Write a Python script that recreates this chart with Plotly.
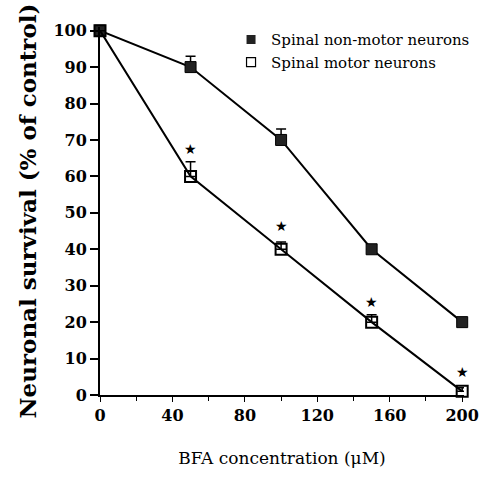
import plotly.graph_objects as go

conc = [0, 50, 100, 150, 200]
nonmotor = [100, 90, 70, 40, 20]
nonmotor_err = [0, 3, 3, 0, 0]
motor = [100, 60, 40, 20, 1]
motor_err = [0, 4, 2, 2, 1]
star_x = [50, 100, 150, 200]
star_y = [67, 46, 25, 6]
x_ticks = [0, 40, 80, 120, 160, 200]
y_ticks = [0, 10, 20, 30, 40, 50, 60, 70, 80, 90, 100]
series_names = ["Spinal non-motor neurons", "Spinal motor neurons"]

SERIF = "DejaVu Serif"
filled_marker = dict(symbol="square", size=11, color="#222222", line=dict(color="black", width=1))
open_marker = dict(symbol="square-open", size=11, color="black", line=dict(color="black", width=2))

fig = go.Figure()
fig.add_trace(go.Scatter(
    x=conc, y=nonmotor, mode="lines+markers", name=series_names[0], showlegend=False,
    line=dict(color="black", width=2), marker=filled_marker,
    error_y=dict(type="data", array=nonmotor_err, arrayminus=[0]*5, symmetric=False,
                 color="black", thickness=1.5, width=5),
    cliponaxis=False,
))
fig.add_trace(go.Scatter(
    x=conc, y=motor, mode="lines+markers", name=series_names[1], showlegend=False,
    line=dict(color="black", width=2), marker=open_marker,
    error_y=dict(type="data", array=motor_err, arrayminus=[0]*5, symmetric=False,
                 color="black", thickness=1.5, width=5),
    cliponaxis=False,
))
# legend entries (markers only)
fig.add_trace(go.Scatter(x=[None], y=[None], mode="markers", name=series_names[0],
                         marker=dict(symbol="square", size=9, color="#222222")))
fig.add_trace(go.Scatter(x=[None], y=[None], mode="markers", name=series_names[1],
                         marker=dict(symbol="square-open", size=9, color="black",
                                     line=dict(color="black", width=1.2))))
fig.add_trace(go.Scatter(
    x=star_x, y=star_y, mode="text", text=["★"]*len(star_x), showlegend=False,
    textfont=dict(size=14, color="black"), cliponaxis=False, hoverinfo="skip",
))

fig.update_layout(
    width=491, height=487,
    margin=dict(l=100, r=21, t=27, b=92),
    paper_bgcolor="white", plot_bgcolor="white",
    showlegend=True,
    legend=dict(x=0.36, y=1.01, xanchor="left", yanchor="top",
                font=dict(family=SERIF, size=15, color="black"),
                bgcolor="rgba(0,0,0,0)", itemwidth=30, tracegroupgap=0),
    font=dict(family=SERIF, color="black"),
)
fig.update_xaxes(
    range=[0, 201], tickvals=x_ticks, ticktext=[str(v) for v in x_ticks],
    showline=True, linecolor="black", linewidth=2, showgrid=False, zeroline=False,
    ticks="outside", ticklen=5, tickwidth=1, tickcolor="black",
    minor=dict(dtick=20, tick0=0, ticks="outside", ticklen=4, tickcolor="black", showgrid=False),
    tickfont=dict(family=SERIF, size=16, color="black", weight="bold"),
    title=dict(text="BFA concentration (μM)", font=dict(family=SERIF, size=17, color="black"),
               standoff=28),
)
fig.update_yaxes(
    range=[0, 101], tickvals=y_ticks,
    showline=True, linecolor="black", linewidth=2, showgrid=False, zeroline=False,
    ticks="outside", ticklen=8, tickwidth=1.5, tickcolor="black",
    tickfont=dict(family=SERIF, size=16, color="black", weight="bold"),
    title=dict(text="Neuronal survival (% of control)",
               font=dict(family=SERIF, size=23, color="black", weight="bold"), standoff=10),
)

fig.write_html("out.html")
